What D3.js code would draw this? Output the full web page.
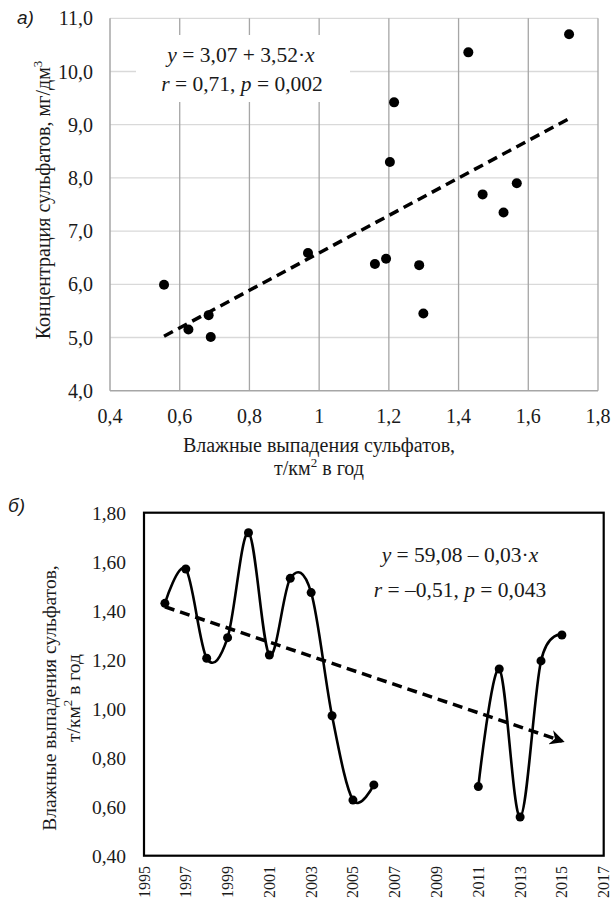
<!DOCTYPE html>
<html><head><meta charset="utf-8">
<script src="https://cdn.jsdelivr.net/npm/d3@7"></script>
<style>
body{margin:0;background:#fff;}
</style></head>
<body><svg id="c" width="612" height="903"></svg>
<script>
// ---- Chart a) data ----
const depositionA = [0.555,0.625,0.683,0.689,0.968,1.160,1.192,1.287,1.299,1.529,1.428,1.717,1.215,1.203,1.469,1.567];
const concentrationA = [5.99,5.15,5.42,5.01,6.59,6.38,6.48,6.36,5.45,7.35,10.36,10.70,9.42,8.30,7.69,7.90];
const trendCoefA = [3.07, 3.52];
const trendRangeA = [0.555, 1.717];
const xTicksA = [0.4,0.6,0.8,1,1.2,1.4,1.6,1.8];
const yTicksA = [4,5,6,7,8,9,10,11];
// ---- Chart б) data ----
const yearsB1 = [1996,1997,1998,1999,2000,2001,2002,2003,2004,2005,2006];
const valuesB1 = [1.43,1.57,1.206,1.29,1.718,1.219,1.532,1.474,0.971,0.627,0.689];
const yearsB2 = [2011,2012,2013,2014,2015];
const valuesB2 = [0.682,1.162,0.558,1.195,1.301];
const trendYearsB = [1996,2015];
const trendValuesB = [1.416,0.868];
const xTicksB = [1995,1997,1999,2001,2003,2005,2007,2009,2011,2013,2015,2017];
const yTicksB = [0.4,0.6,0.8,1.0,1.2,1.4,1.6,1.8];

const svg = d3.select("#c");
const SERIF = "'Liberation Serif'";
const SANS = "'Liberation Sans'";
const comma = (v,d)=> v.toFixed(d).replace(".",",");
const txtCol = "#1a1a1a";
const T = (sel)=> sel.append("text").style("font-family",SERIF).attr("fill",txtCol);

// ================= Chart a =================
const xA = d3.scaleLinear().domain([0.4,1.8]).range([110,598]);
const yA = d3.scaleLinear().domain([4,11]).range([390.7,18.3]);
const gA = svg.append("g");
gA.selectAll(".hg").data(yTicksA.slice(1)).join("line")
  .attr("x1",xA(0.4)).attr("x2",xA(1.8)).attr("y1",d=>yA(d)).attr("y2",d=>yA(d))
  .attr("stroke","#d9d9d9").attr("stroke-width",1.3);
gA.selectAll(".vg").data(xTicksA.slice(1)).join("line")
  .attr("x1",d=>xA(d)).attr("x2",d=>xA(d)).attr("y1",yA(4)).attr("y2",yA(11))
  .attr("stroke","#a6a6a6").attr("stroke-width",1.3);
gA.append("line").attr("x1",xA(0.4)).attr("x2",xA(0.4)).attr("y1",yA(4)).attr("y2",yA(11)).attr("stroke","#a6a6a6").attr("stroke-width",1.5);
gA.append("line").attr("x1",xA(0.4)).attr("x2",xA(1.8)).attr("y1",yA(4)).attr("y2",yA(4)).attr("stroke","#a6a6a6").attr("stroke-width",1.5);
gA.append("rect").attr("x",136).attr("y",35).attr("width",214).attr("height",67).attr("fill","#fff");
gA.selectAll(".xt").data(xTicksA).join("text").style("font-family",SERIF)
  .attr("x",d=>xA(d)).attr("y",423).attr("text-anchor","middle")
  .attr("font-size",20).attr("fill",txtCol)
  .text(d=> d===1 ? "1" : comma(d,1));
gA.selectAll(".yt").data(yTicksA).join("text").style("font-family",SERIF)
  .attr("x",93).attr("y",d=>yA(d)+7).attr("text-anchor","end")
  .attr("font-size",20).attr("fill",txtCol)
  .text(d=>comma(d,1));
const trendA = trendRangeA.map(x=>[x, trendCoefA[0]+trendCoefA[1]*x]);
gA.append("path").attr("d",d3.line().x(d=>xA(d[0])).y(d=>yA(d[1]))(trendA))
  .attr("stroke","#000").attr("stroke-width",3.5).attr("stroke-dasharray","10,6").attr("fill","none");
gA.selectAll(".pt").data(depositionA.map((x,i)=>[x,concentrationA[i]])).join("circle")
  .attr("cx",d=>xA(d[0])).attr("cy",d=>yA(d[1])).attr("r",5).attr("fill","#000");
const eqA1 = T(gA).attr("x",241).attr("y",62).attr("text-anchor","middle").attr("font-size",21.5);
eqA1.append("tspan").attr("font-style","italic").text("y");
eqA1.append("tspan").text(" = 3,07 + 3,52·");
eqA1.append("tspan").attr("font-style","italic").text("x");
const eqA2 = T(gA).attr("x",242).attr("y",91).attr("text-anchor","middle").attr("font-size",21.5);
eqA2.append("tspan").attr("font-style","italic").text("r");
eqA2.append("tspan").text(" = 0,71, ");
eqA2.append("tspan").attr("font-style","italic").text("p");
eqA2.append("tspan").text(" = 0,002");
T(svg).attr("x",319).attr("y",452).attr("text-anchor","middle").attr("font-size",20)
  .text("Влажные выпадения сульфатов,");
const xtA2 = T(svg).attr("x",319).attr("y",475).attr("text-anchor","middle").attr("font-size",20);
xtA2.append("tspan").text("т/км");
xtA2.append("tspan").attr("dy",-8).attr("font-size",13).text("2");
xtA2.append("tspan").attr("dy",8).text(" в год");
const ytA = T(svg).attr("transform","translate(50,200) rotate(-90)").attr("text-anchor","middle").attr("font-size",20);
ytA.append("tspan").text("Концентрация  сульфатов, мг/дм");
ytA.append("tspan").attr("dy",-8).attr("font-size",13).text("3");
svg.append("text").attr("x",17).attr("y",24).style("font-family",SANS).attr("font-style","italic").attr("font-size",19).attr("fill",txtCol).text("а)");

// ================= Chart б =================
const xB = d3.scaleLinear().domain([1995,2017]).range([144,603.7]);
const yB = d3.scaleLinear().domain([0.4,1.8]).range([855.7,512.7]);
const gB = svg.append("g");
gB.append("rect").attr("x",xB(1995)).attr("y",yB(1.8)).attr("width",xB(2017)-xB(1995)).attr("height",yB(0.4)-yB(1.8))
  .attr("fill","none").attr("stroke","#000").attr("stroke-width",2.2);
gB.selectAll(".yt").data(yTicksB).join("text").style("font-family",SERIF)
  .attr("x",126).attr("y",d=>yB(d)+7).attr("text-anchor","end").attr("font-size",19.5).attr("fill",txtCol)
  .text(d=>comma(d,2));
gB.selectAll(".xt").data(xTicksB).join("text").style("font-family",SERIF)
  .attr("transform",d=>`translate(${xB(d)+5.5},866) rotate(-90)`).attr("text-anchor","end")
  .attr("font-size",16).attr("fill",txtCol).text(d=>d);
const defs = svg.append("defs");
defs.append("marker").attr("id","arr").attr("viewBox","0 0 10 10").attr("refX",8).attr("refY",5)
  .attr("markerWidth",4.2).attr("markerHeight",4.2).attr("orient","auto").attr("markerUnits","strokeWidth")
  .append("path").attr("d","M0,0 L10,5 L0,10 L3,5 Z").attr("fill","#000");
gB.append("path").attr("d",d3.line().x(d=>xB(d[0])).y(d=>yB(d[1]))(trendYearsB.map((y,i)=>[y,trendValuesB[i]])))
  .attr("stroke","#000").attr("stroke-width",3.5).attr("stroke-dasharray","10,6").attr("fill","none").attr("marker-end","url(#arr)");
const lineB = d3.line().x(d=>xB(d[0])).y(d=>yB(d[1])).curve(d3.curveCardinal.tension(0));
[[yearsB1,valuesB1],[yearsB2,valuesB2]].forEach(([ys,vs])=>{
  const pts = ys.map((y,i)=>[y,vs[i]]);
  gB.append("path").attr("d",lineB(pts)).attr("stroke","#000").attr("stroke-width",2.6).attr("fill","none");
  gB.selectAll(null).data(pts).join("circle").attr("cx",d=>xB(d[0])).attr("cy",d=>yB(d[1])).attr("r",4.5).attr("fill","#000");
});
const eqB1 = T(gB).attr("x",460).attr("y",562).attr("text-anchor","middle").attr("font-size",21.5);
eqB1.append("tspan").attr("font-style","italic").text("y");
eqB1.append("tspan").text(" = 59,08 – 0,03·");
eqB1.append("tspan").attr("font-style","italic").text("x");
const eqB2 = T(gB).attr("x",460).attr("y",597).attr("text-anchor","middle").attr("font-size",21.5);
eqB2.append("tspan").attr("font-style","italic").text("r");
eqB2.append("tspan").text(" = –0,51, ");
eqB2.append("tspan").attr("font-style","italic").text("p");
eqB2.append("tspan").text(" = 0,043");
T(svg).attr("transform","translate(56,698) rotate(-90)").attr("text-anchor","middle").attr("font-size",19.5)
  .text("Влажные выпадения сульфатов,");
const ytB2 = T(svg).attr("transform","translate(80,698) rotate(-90)").attr("text-anchor","middle").attr("font-size",19.5);
ytB2.append("tspan").text("т/км");
ytB2.append("tspan").attr("dy",-8).attr("font-size",13).text("2");
ytB2.append("tspan").attr("dy",8).text(" в год");
svg.append("text").attr("x",8).attr("y",512).style("font-family",SANS).attr("font-style","italic").attr("font-size",19).attr("fill",txtCol).text("б)");
</script></body></html>
